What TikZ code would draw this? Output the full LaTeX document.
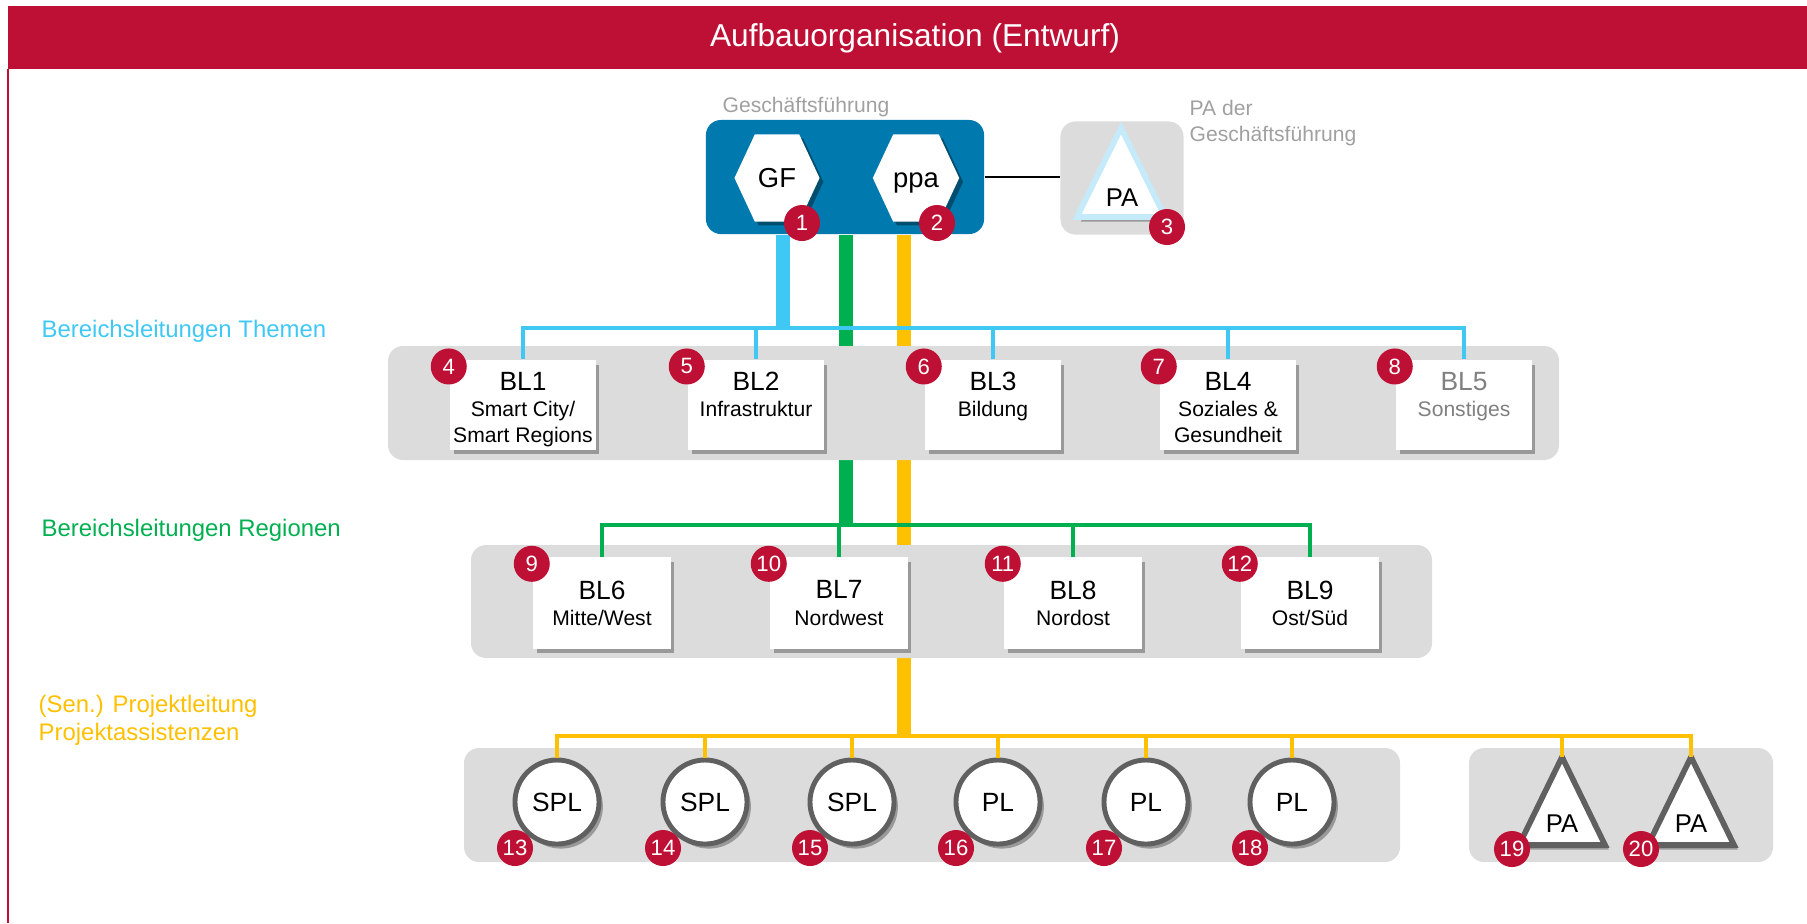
\documentclass[tikz,border=0pt]{standalone}
\usepackage{fontspec}
\setmainfont{Liberation Sans}
\usetikzlibrary{positioning, calc, shadows, backgrounds, shapes.symbols}

\definecolor{titlered}{RGB}{190,16,52}
\definecolor{gfblue}{RGB}{0,122,174}
\definecolor{themecyan}{RGB}{64,200,245}
\definecolor{regiongreen}{RGB}{0,176,80}
\definecolor{projyellow}{RGB}{255,192,0}
\definecolor{bandgray}{RGB}{220,220,220}
\definecolor{rimgray}{RGB}{96,96,96}
\definecolor{palightblue}{RGB}{197,234,250}
\definecolor{labelgray}{RGB}{160,160,160}
\definecolor{softgray}{RGB}{128,128,128}

\newcommand{\blcard}[2]{\begin{tabular}[t]{@{}c@{}}{\fontsize{7.5}{9}\selectfont #1}\\#2\end{tabular}}

\begin{document}
\begin{tikzpicture}
  [x=0.01cm, y=-0.01cm,
   boxshadow/.style={drop shadow={shadow xshift=1.1pt, shadow yshift=-1.3pt,
                     opacity=.3, fill=black}},
   badge/.style={circle, fill=titlered, text=white, inner sep=0pt,
                 minimum size=0.36cm, font=\fontsize{6.3}{7}\selectfont},
   blbox/.style={rectangle, fill=white, inner sep=0pt, align=center,
                 minimum width=1.35cm, minimum height=0.88cm,
                 font=\fontsize{6}{7.4}\selectfont, boxshadow},
   topbox/.style={blbox, text height=8.5pt, text depth=17pt},
   hexa/.style={signal, signal to=west and east, signal pointer angle=130,
                fill=white, inner sep=0pt, minimum width=0.85cm,
                minimum height=0.87cm, text height=5.6pt, text depth=0pt,
                font=\fontsize{7.8}{9}\selectfont,
                drop shadow={shadow xshift=1.1pt, shadow yshift=-1.1pt,
                opacity=.6, fill=black!60!gfblue}},
   person/.style={circle, draw=rimgray, line width=1.4pt, fill=white,
                  inner sep=0pt, minimum size=0.84cm,
                  font=\fontsize{7.5}{9}\selectfont, boxshadow},
   tri/.style={draw=rimgray, fill=white, line width=1.6pt, line join=miter,
               boxshadow},
   tritext/.style={inner sep=0pt, font=\fontsize{7.3}{9}\selectfont},
   band/.style={fill=bandgray, rounded corners=0.15cm},
   theme/.style={draw=themecyan, line width=1pt},
   region/.style={draw=regiongreen, line width=1pt},
   project/.style={draw=projyellow, line width=1pt},
   trunk/.style={line width=4.2pt},
   caption/.style={anchor=west, inner sep=0pt, align=left,
                   font=\fontsize{6.8}{8}\selectfont},
   graylabel/.style={inner sep=0pt, text=labelgray,
                     font=\fontsize{6}{7.4}\selectfont}]
  \useasboundingbox (0,0) rectangle (1807,923);

  % header
  \fill[titlered] (8,6) rectangle (1807,69);
  \draw[titlered, line width=0.6pt] (8,69) -- (8,923);
  \node[text=white, font=\fontsize{9}{11}\selectfont] (title) at (915,38)
    {Aufbauorganisation (Entwurf)};

  % captions left
  \node[caption, text=themecyan]   (themecap)   at (41,331) {Bereichsleitungen Themen};
  \node[caption, text=regiongreen] (regioncap)  at (41,530) {Bereichsleitungen Regionen};
  \node[caption, text=projyellow]  (projectcap) at (38,720)
    {(Sen.) Projektleitung\\Projektassistenzen};

  % Geschaeftsfuehrung
  \node[fill=gfblue, rounded corners=0.15cm, minimum width=2.78cm,
        minimum height=1.14cm] (gfbox) at (845,177) {};
  \node[graylabel] (gflabel) at (806,107) {Geschäftsführung};
  \node[hexa] (gf)  at (777,178) {GF};
  \node[hexa] (ppa) at (916,178) {ppa};
  \node[badge] (b1) at (802,223) {1};
  \node[badge] (b2) at (937,223) {2};

  \node[fill=bandgray, rounded corners=0.15cm, minimum width=1.23cm,
        minimum height=1.13cm] (pabox) at (1122,178) {};
  \filldraw[tri, draw=palightblue] (1121,128) coordinate (patop)
    -- (1165,217) -- (1077,217) -- cycle;
  \node[tritext] (pa) at (1122,198) {PA};
  \node[badge] (b3) at (1167,227) {3};
  \node[graylabel, anchor=west, align=left] (palabel) at (1189,123)
    {PA der\\Geschäftsführung};
  \draw[line width=0.5pt] (gfbox.east) -- (gfbox.east -| pabox.west);

  % Bereichsleitungen Themen
  \node[topbox, minimum width=1.45cm] (bl1) at (523,405)
    {\blcard{BL1}{Smart City/\\Smart Regions}};
  \node[topbox] (bl2) at (756,405) {\blcard{BL2}{Infrastruktur}};
  \node[topbox] (bl3) at (993,405) {\blcard{BL3}{Bildung}};
  \node[topbox] (bl4) at (1228,405) {\blcard{BL4}{Soziales \&\\Gesundheit}};
  \node[topbox, text=softgray] (bl5) at (1464,405) {\blcard{BL5}{Sonstiges}};

  % Bereichsleitungen Regionen
  \node[blbox, minimum width=1.37cm, minimum height=0.91cm] (bl6) at (602,603)
    {{\fontsize{7.5}{9}\selectfont BL6}\\Mitte/West};
  \node[blbox, minimum width=1.37cm, minimum height=0.91cm] (bl7) at (839,603)
    {{\fontsize{7.5}{9}\selectfont BL7}\\Nordwest};
  \node[blbox, minimum width=1.37cm, minimum height=0.91cm] (bl8) at (1073,603)
    {{\fontsize{7.5}{9}\selectfont BL8}\\Nordost};
  \node[blbox, minimum width=1.37cm, minimum height=0.91cm] (bl9) at (1310,603)
    {{\fontsize{7.5}{9}\selectfont BL9}\\Ost/Süd};

  \foreach \b/\n in {bl1/4, bl2/5, bl3/6, bl4/7, bl5/8, bl6/9, bl7/10, bl8/11, bl9/12}
    \node[badge] (b\n) at ([shift={(-1,7)}]\b.north west) {\n};

  % Projektleitung
  \foreach \c/\x/\t/\n in {c13/557/SPL/13, c14/705/SPL/14, c15/852/SPL/15,
                           c16/998/PL/16, c17/1146/PL/17, c18/1292/PL/18} {
    \node[person] (\c) at (\x,802) {\t};
    \node[badge] (b\n) at ([shift={(-42,46)}]\c.center) {\n};
  }

  % Projektassistenzen
  \foreach \t/\x/\n in {pa19/1562/19, pa20/1691/20} {
    \filldraw[tri] (\x,757) coordinate (\t top) -- ++(43,88) -- ++(-86,0) -- cycle;
    \node[tritext] (\t) at (\x,824) {PA};
    \node[badge] (b\n) at ([shift={(-50,4)}]\t top |- 0,845) {\n};
  }

  % connectors
  \coordinate (themejoint)   at (783,328);
  \coordinate (regionjoint)  at (846,525);
  \coordinate (projectjoint) at (904,736);

  \begin{scope}[on background layer]
    \draw[theme, trunk]   (gfbox.south -| themejoint)   -- (themejoint);
    \draw[region, trunk]  (gfbox.south -| regionjoint)  -- (regionjoint);
    \draw[project, trunk] (gfbox.south -| projectjoint) -- (projectjoint);
    \fill[band] (388,346) rectangle (1559,460);
    \fill[band] (471,545) rectangle (1432,658);
    \fill[band] (464,748) rectangle (1400,862);
    \fill[band] (1469,748) rectangle (1773,862);
  \end{scope}

  \draw[theme] (bl1.north) -- (bl1.north |- themejoint)
    -- (bl5.north |- themejoint) -- (bl5.north);
  \foreach \b in {bl2, bl3, bl4}
    \draw[theme] (\b.north) -- (\b.north |- themejoint);

  \draw[region] (bl6.north) -- (bl6.north |- regionjoint)
    -- (bl9.north |- regionjoint) -- (bl9.north);
  \foreach \b in {bl7, bl8}
    \draw[region] (\b.north) -- (\b.north |- regionjoint);

  \draw[project] (c13.north) -- (c13.north |- projectjoint)
    -- (pa20top |- projectjoint) -- (pa20top);
  \foreach \b in {c14.north, c15.north, c16.north, c17.north, c18.north, pa19top}
    \draw[project] (\b) -- (\b |- projectjoint);
\end{tikzpicture}
\end{document}
